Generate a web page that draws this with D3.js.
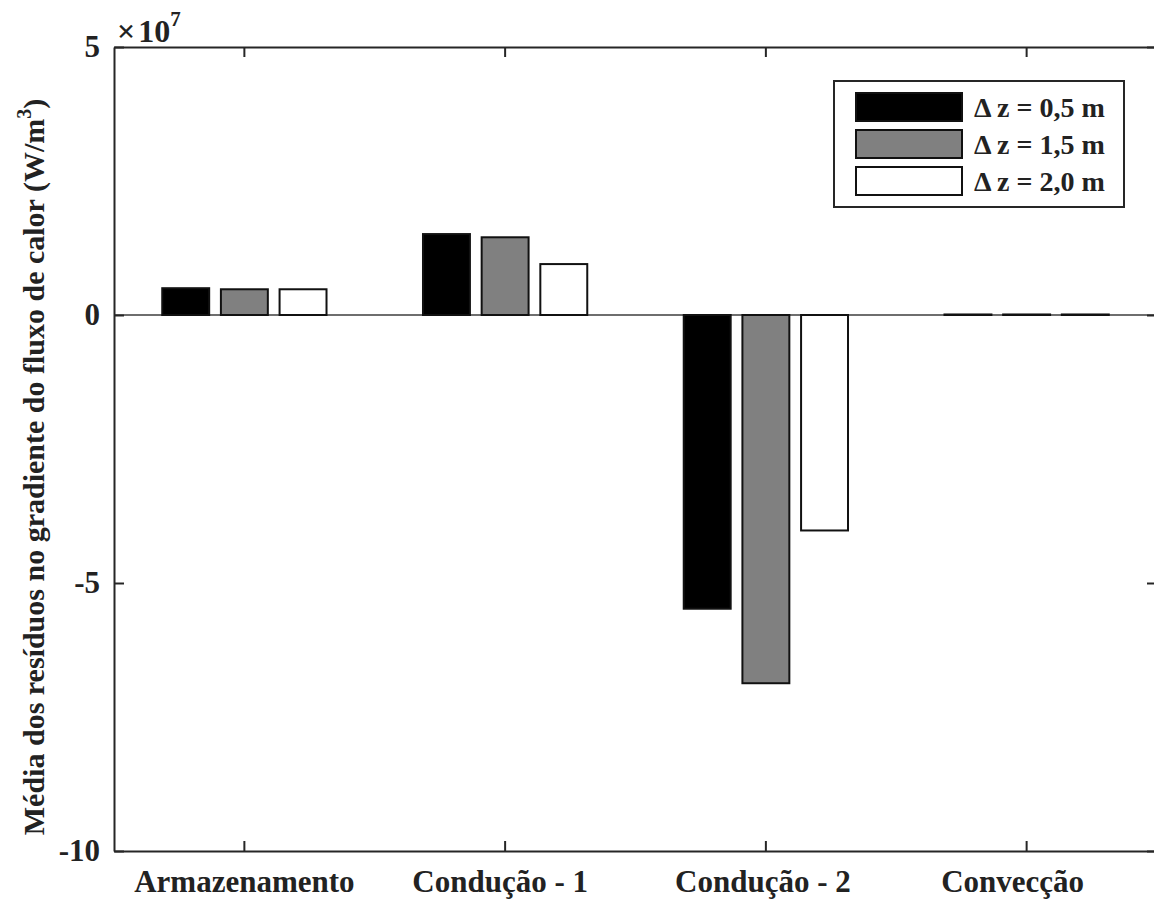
<!DOCTYPE html>
<html>
<head>
<meta charset="utf-8">
<script src="https://cdn.jsdelivr.net/npm/d3@7"></script>
<style>
  html, body { margin: 0; padding: 0; background: #fff; }
  svg { display: block; }
  text { font-family: "Liberation Serif", "Times New Roman", serif; font-weight: bold; fill: #222; }
</style>
</head>
<body>
<svg id="chart" width="1154" height="899"></svg>
<script>
// Mean residuals of the heat-flux gradient per term (W/m³)
const categories = ["Armazenamento", "Condução - 1", "Condução - 2", "Convecção"];
const seriesNames = ["Δ z = 0,5 m", "Δ z = 1,5 m", "Δ z = 2,0 m"];
const dz05 = [0.50e7, 1.51e7, -5.48e7, 0.01e7];
const dz15 = [0.48e7, 1.45e7, -6.87e7, 0.01e7];
const dz20 = [0.48e7, 0.95e7, -4.02e7, 0.01e7];
const seriesValues = [dz05, dz15, dz20];
const yTicks = [5e7, 0, -5e7, -10e7];
const seriesFill = ["#000000", "#808080", "#ffffff"];

const svg = d3.select("#chart");
const plotLeft = 114, plotTop = 47, plotRight = 1157, plotBottom = 851;
const axisColor = "#262626";
const labelShift = [0, -5, -3, -14];

const x = d3.scaleBand().domain(categories).range([plotLeft, plotRight]).paddingInner(0).paddingOuter(0);
const xs = d3.scaleBand().domain(seriesNames).range([-88, 88]).paddingInner(0.2).paddingOuter(0.1);
const y = d3.scaleLinear().domain([-10e7, 5e7]).range([plotBottom, plotTop]);

// zero baseline
svg.append("line")
  .attr("x1", plotLeft).attr("x2", plotRight)
  .attr("y1", y(0)).attr("y2", y(0))
  .attr("stroke", "#6e6e6e").attr("stroke-width", 2);

// grouped bars
const rows = [];
categories.forEach((c, i) => {
  seriesNames.forEach((s, j) => rows.push({ c, s, j, v: seriesValues[j][i] }));
});
svg.append("g").selectAll("rect").data(rows).join("rect")
  .attr("x", d => x(d.c) + x.bandwidth() / 2 + xs(d.s))
  .attr("width", xs.bandwidth())
  .attr("y", d => y(Math.max(0, d.v)))
  .attr("height", d => Math.abs(y(d.v) - y(0)))
  .attr("fill", d => seriesFill[d.j])
  .attr("stroke", "#111")
  .attr("stroke-width", 2);

// axes (ticks pointing inward, mirrored on the opposite side)
const tickLen = 10;
const yAxis = svg.append("g").attr("transform", `translate(${plotLeft},0)`)
  .call(d3.axisLeft(y).tickValues(yTicks).tickFormat(d => String(d / 1e7)).tickSizeInner(-tickLen).tickSizeOuter(0).tickPadding(14));
const yAxisR = svg.append("g").attr("transform", `translate(${plotRight},0)`)
  .call(d3.axisRight(y).tickValues(yTicks).tickFormat("").tickSizeInner(-tickLen).tickSizeOuter(0));
const xAxis = svg.append("g").attr("transform", `translate(0,${plotBottom})`)
  .call(d3.axisBottom(x).tickSizeInner(-tickLen).tickSizeOuter(0).tickPadding(19));
const xAxisT = svg.append("g").attr("transform", `translate(0,${plotTop})`)
  .call(d3.axisTop(x).tickFormat("").tickSizeInner(-tickLen).tickSizeOuter(0));

[yAxis, yAxisR, xAxis, xAxisT].forEach(g => {
  g.selectAll(".domain").attr("stroke", axisColor).attr("stroke-width", 2);
  g.selectAll(".tick line").attr("stroke", axisColor).attr("stroke-width", 2);
  g.selectAll(".tick text")
    .attr("font-family", "Liberation Serif, serif")
    .attr("font-weight", "bold")
    .attr("font-size", 31)
    .attr("fill", "#222");
});
xAxis.selectAll(".tick text").attr("dx", (d, i) => labelShift[i]);

// exponent label
const expo = svg.append("text").attr("x", 117).attr("y", 42)
  .attr("font-size", 32).attr("font-weight", "normal");
expo.append("tspan").text("×");
expo.append("tspan").attr("dx", 3).attr("font-weight", "bold").text("10");
expo.append("tspan").attr("font-size", 21).attr("dy", -16).text("7");

// y-axis title
const yTitle = svg.append("text")
  .attr("transform", "translate(44,467) rotate(-90)")
  .attr("text-anchor", "middle")
  .attr("font-size", 30);
yTitle.append("tspan").text("Média dos resíduos no gradiente do fluxo de calor (W/m");
yTitle.append("tspan").attr("font-size", 20).attr("dy", -13).text("3");
yTitle.append("tspan").attr("dy", 13).text(")");

// legend
const lg = svg.append("g");
lg.append("rect").attr("x", 834).attr("y", 81).attr("width", 290).attr("height", 126)
  .attr("fill", "#fff").attr("stroke", axisColor).attr("stroke-width", 2);
seriesNames.forEach((s, j) => {
  const ry = 93 + j * 37;
  lg.append("rect").attr("x", 856).attr("y", ry).attr("width", 106).attr("height", 28)
    .attr("fill", seriesFill[j]).attr("stroke", "#111").attr("stroke-width", 2);
  lg.append("text").attr("x", 974).attr("y", ry + 24).attr("font-size", 28).text(s);
});
</script>
</body>
</html>
